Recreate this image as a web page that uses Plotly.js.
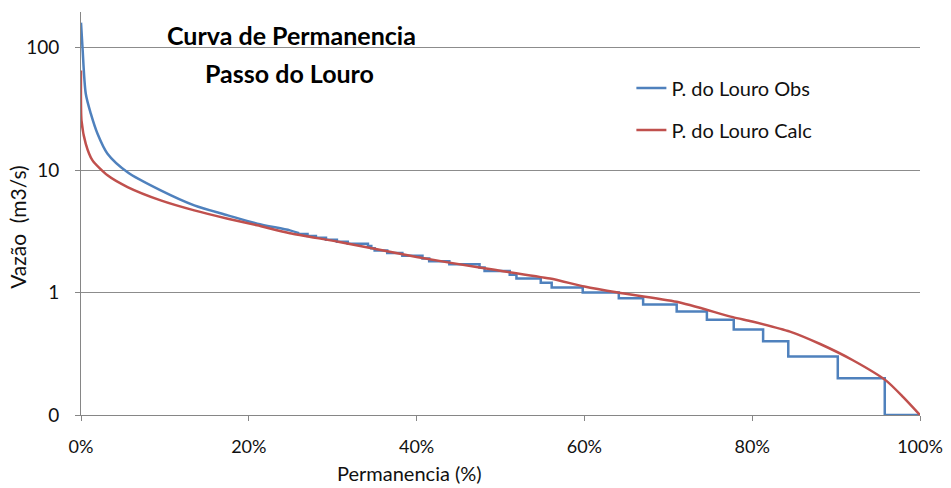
<!DOCTYPE html>
<html>
<head>
<meta charset="utf-8">
<script src="https://cdn.plot.ly/plotly-3.0.1.min.js"></script>
<style>html,body{margin:0;padding:0;background:#fff;}#chart{width:951px;height:488px;}</style>
</head>
<body>
<div id="chart"></div>
<script>
// Observed series: smooth upper part (percent, flow)
const obsUpperPerm = [0, 0.18, 0.57, 1.17, 1.97, 3.16, 5.55, 9.5, 13.5, 17.5, 21.0, 24.9, 26.0];
const obsUpperQ    = [160, 100, 42, 28.9, 19.8, 13.6, 9.6, 6.83, 5.15, 4.27, 3.65, 3.22, 3.05];
// Observed series: stepped lower part (flow level, percent where level ends)
const obsLevelQ   = [3.0, 2.9, 2.8, 2.7, 2.6, 2.5, 2.4, 2.3, 2.2, 2.1, 2.0, 1.9, 1.8, 1.7, 1.6, 1.5, 1.4, 1.3, 1.2, 1.1, 1.0, 0.9, 0.8, 0.7, 0.6, 0.5, 0.4, 0.3, 0.2, 0.1];
const obsLevelEnd = [27.0, 28.0, 29.2, 30.5, 31.8, 34.2, 34.6, 35.0, 36.5, 38.3, 40.7, 41.5, 43.9, 47.5, 48.1, 51.1, 51.9, 54.8, 56.1, 59.8, 64.1, 67.0, 71.0, 74.6, 77.8, 81.3, 84.3, 90.2, 95.8, 100];

// Calculated series (percent, flow)
const calcPerm = [0, 0.06, 0.57, 1.37, 3.16, 5.55, 9.5, 13.5, 17.5, 21.0, 24.9, 30.8, 40.0, 47.5, 55.9, 60.0, 64.0, 71.0, 77.7, 80.0, 84.5, 88.1, 92.0, 96.0, 98.0, 100];
const calcQ    = [65, 25.4, 16.4, 12.0, 9.06, 7.27, 5.66, 4.69, 4.01, 3.54, 3.05, 2.59, 1.95, 1.6, 1.30, 1.12, 1.0, 0.84, 0.63, 0.58, 0.48, 0.38, 0.28, 0.19, 0.14, 0.1];

const yTickVals = [0.1, 1, 10, 100];
const yTickText = ["0", "1", "10", "100"];
const xTickVals = [0, 20, 40, 60, 80, 100];
const xTickText = ["0%", "20%", "40%", "60%", "80%", "100%"];

// build observed step curve
const obsStepX = [];
const obsStepY = [];
let start = obsUpperPerm[obsUpperPerm.length - 1];
obsStepX.push(start); obsStepY.push(obsUpperQ[obsUpperQ.length - 1]);
for (let i = 0; i < obsLevelQ.length; i++) {
  obsStepX.push(start); obsStepY.push(obsLevelQ[i]);
  obsStepX.push(obsLevelEnd[i]); obsStepY.push(obsLevelQ[i]);
  start = obsLevelEnd[i];
}

const FONT = "Lato, 'Open Sans', sans-serif";
const BLUE = '#4F81BD', RED = '#C0504D';

const traces = [
  {x: obsUpperPerm, y: obsUpperQ, type: 'scatter', mode: 'lines', name: 'P. do Louro Obs',
   line: {color: BLUE, width: 2.5, shape: 'spline', smoothing: 0.8}, legendgroup: 'a'},
  {x: obsStepX, y: obsStepY, type: 'scatter', mode: 'lines', name: 'P. do Louro Obs',
   line: {color: BLUE, width: 2.5}, legendgroup: 'a', showlegend: false},
  {x: calcPerm, y: calcQ, type: 'scatter', mode: 'lines', name: 'P. do Louro Calc',
   line: {color: RED, width: 2.5, shape: 'spline', smoothing: 0.6}, legendgroup: 'b'}
];

const TXT = '#111';
const layout = {
  width: 951, height: 488,
  margin: {l: 81, r: 31, t: 12, b: 73},
  paper_bgcolor: '#fff', plot_bgcolor: '#fff',
  font: {family: FONT, size: 20, color: TXT},
  showlegend: true,
  legend: {x: 0.656, y: 0.86, xanchor: 'left', yanchor: 'top', bgcolor: 'rgba(0,0,0,0)',
           font: {family: FONT, size: 20, color: TXT}, tracegroupgap: 13},
  xaxis: {range: [0, 100], tickvals: xTickVals, ticktext: xTickText, showgrid: false, zeroline: false,
          showline: true, linecolor: '#868686', linewidth: 1, ticks: 'outside', ticklen: 5,
          tickcolor: '#868686', ticklabelstandoff: 10, tickfont: {family: FONT, size: 18, color: TXT}},
  yaxis: {type: 'log', range: [-1, 2.291], tickvals: yTickVals, ticktext: yTickText,
          showgrid: true, gridcolor: '#8c8c8c', gridwidth: 1, zeroline: false,
          showline: true, linecolor: '#868686', linewidth: 1, ticks: 'outside', ticklen: 5,
          tickcolor: '#868686', ticklabelstandoff: 12, tickfont: {family: FONT, size: 19, color: TXT}},
  annotations: [
    {text: '<b>Curva de Permanencia</b>', xref: 'paper', yref: 'paper', x: 0.251, y: 0.943,
     xanchor: 'center', yanchor: 'middle', showarrow: false, font: {family: FONT, size: 25, color: '#000'}},
    {text: '<b>Passo do Louro</b>', xref: 'paper', yref: 'paper', x: 0.248, y: 0.849,
     xanchor: 'center', yanchor: 'middle', showarrow: false, font: {family: FONT, size: 25, color: '#000'}},
    {text: 'Vazão  (m3/s)', xref: 'paper', yref: 'paper', x: -0.075, y: 0.467, textangle: -90,
     xanchor: 'center', yanchor: 'middle', showarrow: false, font: {family: FONT, size: 21, color: TXT}},
    {text: 'Permanencia (%)', xref: 'paper', yref: 'paper', x: 0.391, y: -0.145,
     xanchor: 'center', yanchor: 'middle', showarrow: false, font: {family: FONT, size: 20, color: TXT}}
  ]
};

Plotly.newPlot('chart', traces, layout, {displayModeBar: false, staticPlot: true});
</script>
</body>
</html>
